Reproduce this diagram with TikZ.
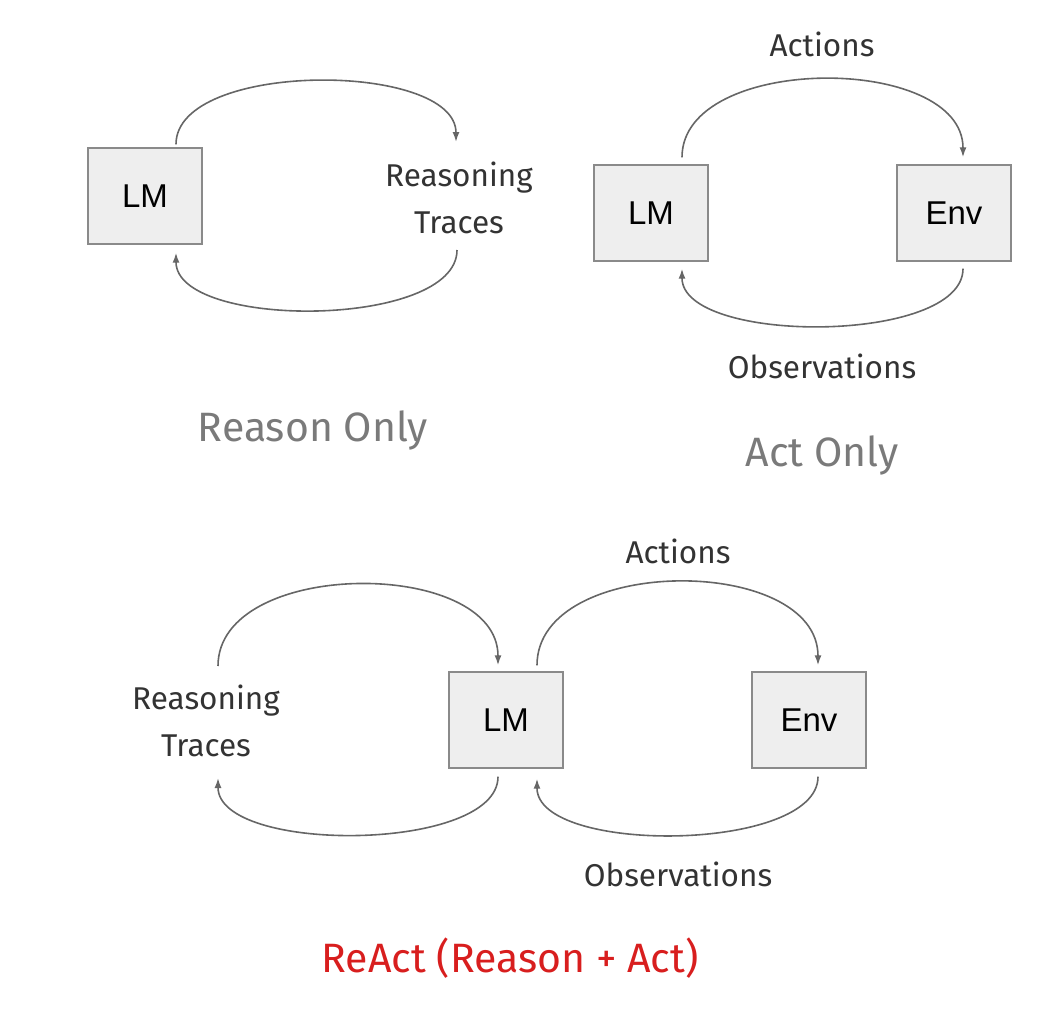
\documentclass[tikz,border=0pt]{standalone}
\usepackage{fontspec}
\setmainfont{Fira Sans}
\newfontfamily\boxfont{Liberation Sans}
\usetikzlibrary{arrows.meta,positioning}

\definecolor{boxfill}{HTML}{EEEEEE}
\definecolor{boxline}{HTML}{8A8A8A}
\definecolor{arcline}{HTML}{666666}
\definecolor{labeltext}{HTML}{333333}
\definecolor{titlegray}{HTML}{7A7A7A}
\definecolor{titlered}{HTML}{D81E1E}

\begin{document}
\begin{tikzpicture}[x=1pt,y=-1pt,
  model/.style={rectangle,draw=boxline,fill=boxfill,line width=1.4pt,
    minimum width=114pt,minimum height=96pt,font=\boxfont\fontsize{33}{40}\selectfont},
  lbl/.style={text=labeltext,align=center,font=\fontsize{31.5}{47}\selectfont},
  title/.style={font=\fontsize{41}{48}\selectfont},
  flow/.style={->,draw=arcline,line width=1.6pt},
  >={Latex[length=10pt,width=7pt]}]
  \useasboundingbox (0,0) rectangle (1058,1028);

  % reason only
  \node[model] (lm1) at (145,196) {LM};
  \node[lbl] (rt1) at (459,198) {Reasoning\\Traces};
  \node[title,text=titlegray] (t1) at (313,430) {Reason Only};
  \draw[flow] ([xshift=31pt,yshift=3pt]lm1.north) .. controls +(0,-84) and +(0,-81) .. ([xshift=-3pt,yshift=56pt]rt1.center);
  \draw[flow] ([xshift=-2pt,yshift=-52pt]rt1.center) .. controls +(0,79) and +(0,77) .. ([xshift=31pt,yshift=-8pt]lm1.south);

  % act only
  \node[model] (lm2) at (651,213) {LM};
  \node[model] (env2) at (954,213) {Env};
  \node[lbl] (act2) at (822,44) {Actions};
  \node[lbl] (obs2) at (822,366) {Observations};
  \node[title,text=titlegray] (t2) at (822,455) {Act Only};
  \draw[flow] ([xshift=31pt,yshift=7pt]lm2.north) .. controls +(0,-104) and +(0,-104) .. ([xshift=9pt,yshift=7pt]env2.north);
  \draw[flow] ([xshift=9pt,yshift=-7pt]env2.south) .. controls +(0,76) and +(0,76) .. ([xshift=31pt,yshift=-7pt]lm2.south);

  % react
  \node[model] (lm3) at (506,720) {LM};
  \node[model] (env3) at (809,720) {Env};
  \node[lbl] (rt3) at (206,721) {Reasoning\\Traces};
  \node[lbl] (act3) at (678,551) {Actions};
  \node[lbl] (obs3) at (678,874) {Observations};
  \node[title,text=titlered] (t3) at (510,958) {ReAct (Reason + Act)};
  \draw[flow] ([xshift=12pt,yshift=55pt]rt3.center) .. controls +(0,-108) and +(0,-108) .. ([xshift=-8pt,yshift=6pt]lm3.north);
  \draw[flow] ([xshift=31pt,yshift=6pt]lm3.north) .. controls +(0,-111) and +(0,-111) .. ([xshift=9pt,yshift=6pt]env3.north);
  \draw[flow] ([xshift=-8pt,yshift=-8pt]lm3.south) .. controls +(0,76) and +(0,76) .. ([xshift=12pt,yshift=-57pt]rt3.center);
  \draw[flow] ([xshift=9pt,yshift=-8pt]env3.south) .. controls +(0,76) and +(0,76) .. ([xshift=31pt,yshift=-10pt]lm3.south);
\end{tikzpicture}
\end{document}
